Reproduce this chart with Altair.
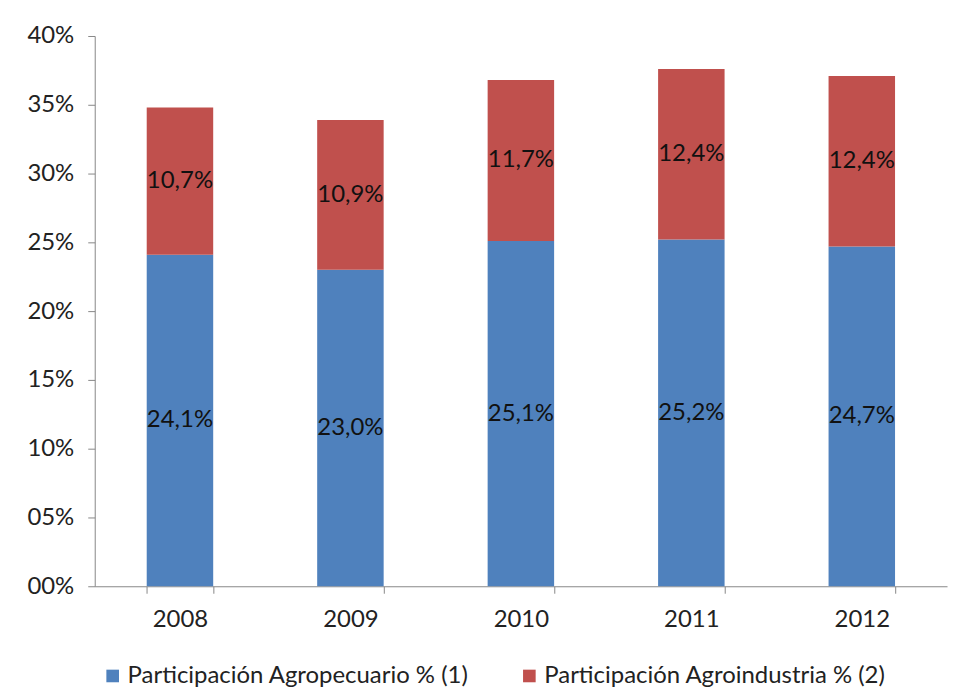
import altair as alt
import pandas as pd

years = ["2008", "2009", "2010", "2011", "2012"]
agropecuario = [24.1, 23.0, 25.1, 25.2, 24.7]
agroindustria = [10.7, 10.9, 11.7, 12.4, 12.4]
series = ["Participación Agropecuario % (1)", "Participación Agroindustria % (2)"]
colors = ["#4F81BD", "#C0504D"]

rows = []
for i, y in enumerate(years):
    for k, vals in enumerate([agropecuario, agroindustria]):
        v = vals[i]
        rows.append({"year": y, "series": series[k], "order": k, "value": v,
                     "label": f"{v:.1f}%".replace(".", ",")})
df = pd.DataFrame(rows)

FONT = "Lato"
FS = 24

base = alt.Chart(df).transform_stack(
    stack="value", groupby=["year"], as_=["y0", "y1"],
    sort=[alt.SortField("order", order="ascending")]
).transform_calculate(mid="(datum.y0 + datum.y1) / 2")

x = alt.X("year:N", title=None,
          scale=alt.Scale(paddingInner=0.61, paddingOuter=0.305),
          axis=alt.Axis(labelAngle=0, labelFontSize=FS, labelFont=FONT, labelColor="#222",
                        domainColor="#888", tickColor="#888", tickSize=7, tickBand="extent",
                        labelPadding=14, grid=False))

bars = base.mark_bar().encode(
    x=x,
    y=alt.Y("y0:Q", title=None,
            scale=alt.Scale(domain=[0, 40], nice=False),
            axis=alt.Axis(values=[0, 5, 10, 15, 20, 25, 30, 35, 40],
                          labelExpr="(datum.value < 10 ? '0' : '') + datum.value + '%'",
                          labelFontSize=FS, labelFont=FONT, labelColor="#222",
                          domainColor="#888", tickColor="#888", tickSize=7,
                          labelPadding=14, grid=False)),
    y2="y1:Q",
    color=alt.Color("series:N", sort=series,
                    scale=alt.Scale(domain=series, range=colors),
                    legend=alt.Legend(title=None, orient="none", direction="horizontal",
                                      legendX=6, legendY=630, symbolType="square",
                                      symbolSize=160, symbolStrokeWidth=0,
                                      labelFontSize=FS, labelFont=FONT, labelColor="#222",
                                      labelOffset=3, labelLimit=0, columnPadding=48,
                                      symbolOpacity=1)),
)

texts = base.mark_text(fontSize=FS, font=FONT, color="#111").encode(
    x="year:N",
    y="mid:Q",
    text="label:N",
)

chart = (bars + texts).properties(
    width=855, height=552,
    autosize=alt.AutoSizeParams(type="none"),
    padding={"left": 87, "top": 27, "right": 10, "bottom": 104},
    background="white",
).configure_view(stroke=None)

chart.save("out.html", embed_options={"renderer": "svg", "actions": False})
